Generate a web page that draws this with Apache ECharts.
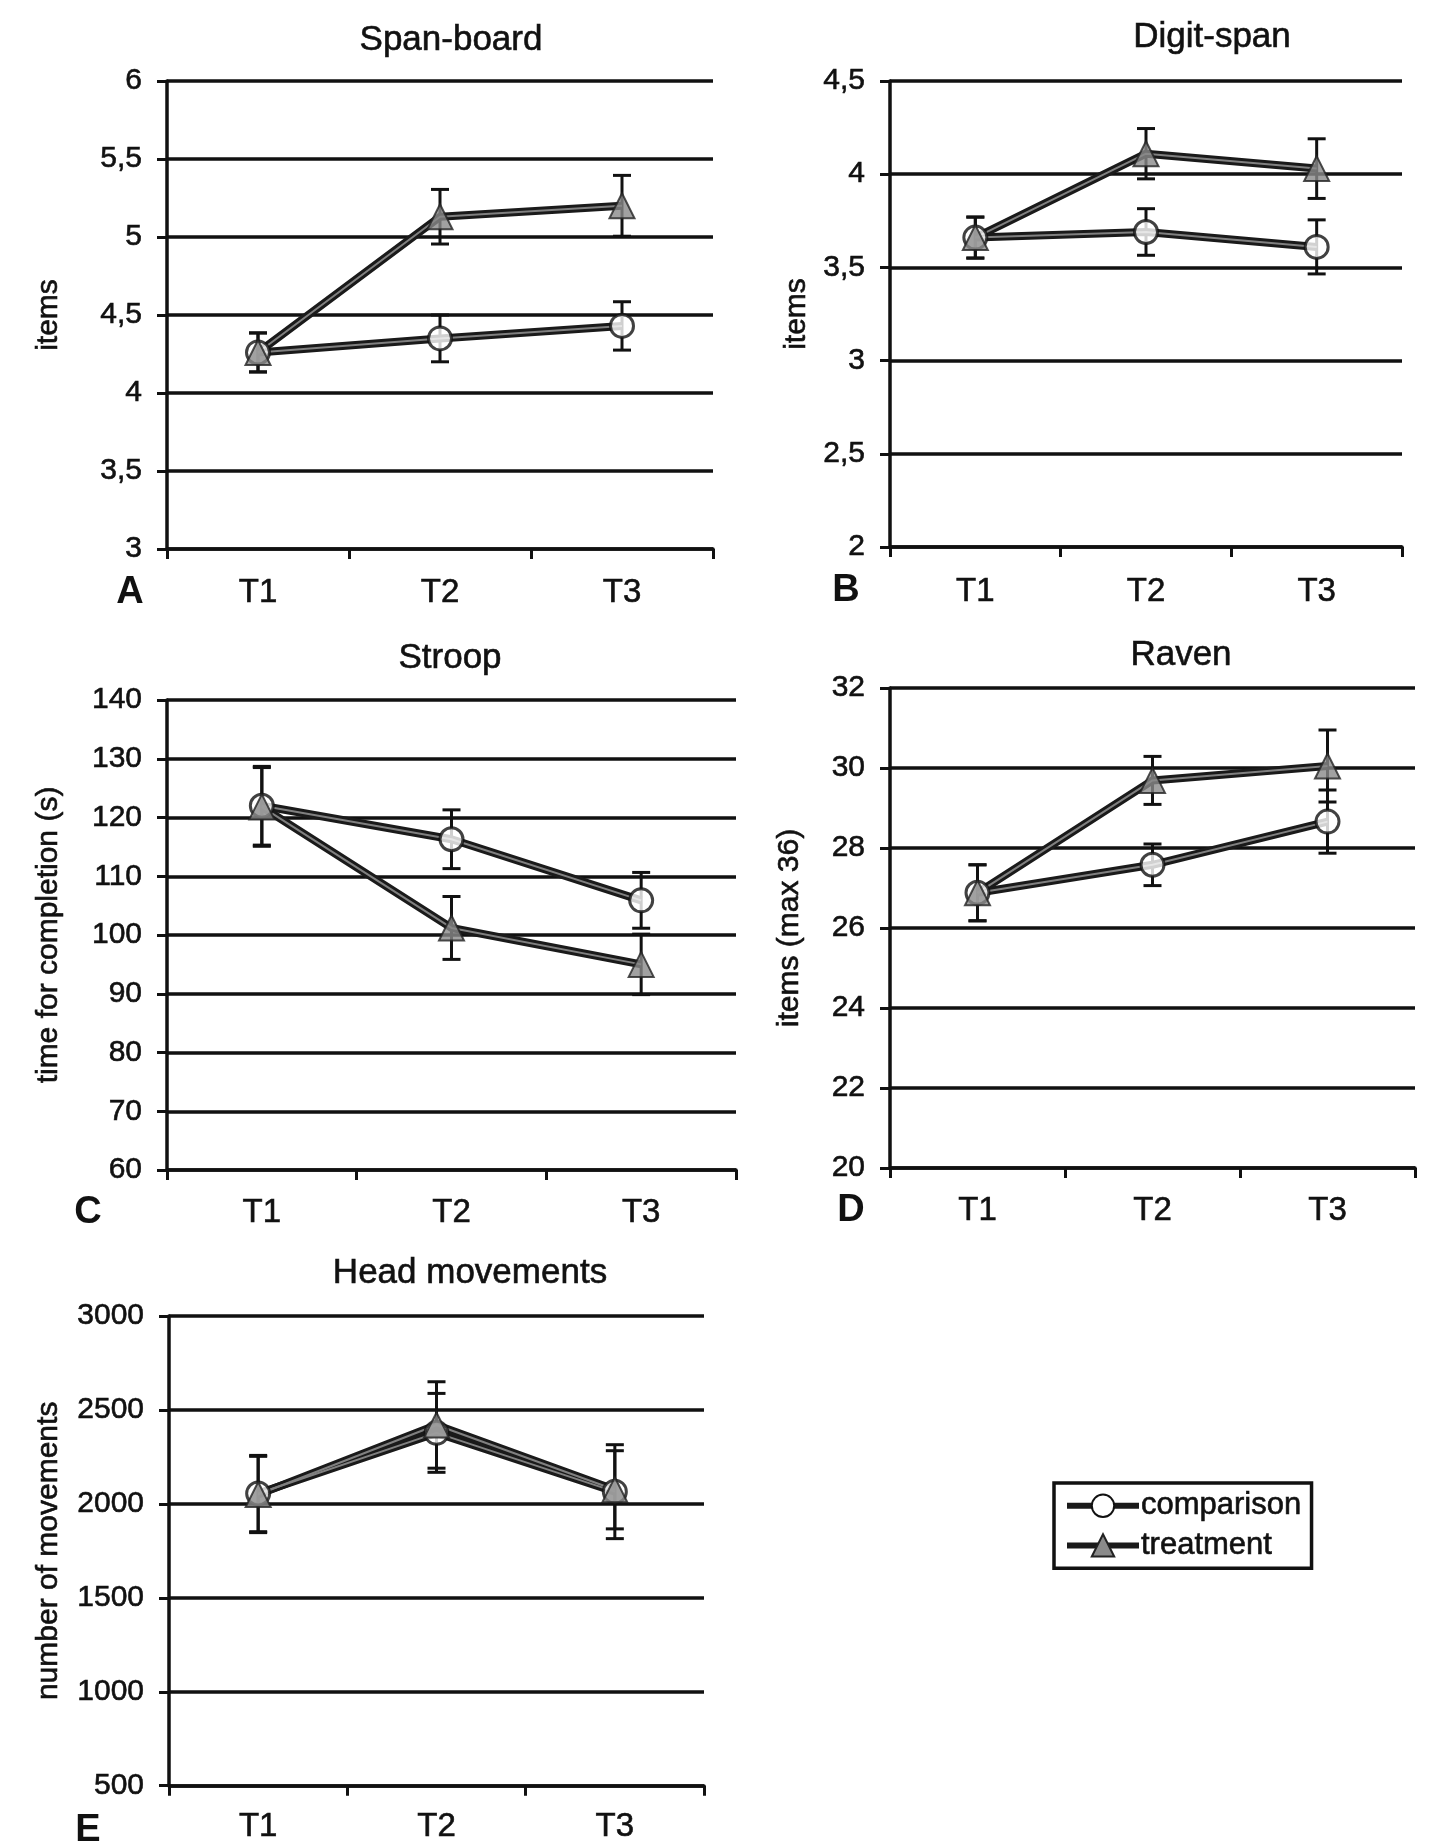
<!DOCTYPE html>
<html>
<head>
<meta charset="utf-8">
<script src="https://cdn.jsdelivr.net/npm/echarts@6/dist/echarts.min.js"></script>
<style>
  html, body { margin: 0; padding: 0; background: #fff; }
  #main { width: 1434px; height: 1844px; }
</style>
</head>
<body>
<div id="main"></div>
<script>
// categories
const times = ['T1', 'T2', 'T3'];

// A - Span-board (items)
const spanComp = [4.26, 4.35, 4.43];
const spanCompErr = [0.125, 0.15, 0.155];
const spanTreat = [4.26, 5.13, 5.20];
const spanTreatErr = [0.125, 0.175, 0.195];

// B - Digit-span (items)
const digitComp = [3.66, 3.69, 3.61];
const digitCompErr = [0.11, 0.125, 0.145];
const digitTreat = [3.66, 4.11, 4.03];
const digitTreatErr = [0.11, 0.135, 0.16];

// C - Stroop (time for completion, s)
const stroopComp = [122, 116.3, 105.9];
const stroopCompErr = [6.7, 5.0, 4.75];
const stroopTreat = [121.8, 101.2, 95];
const stroopTreatErr = [6.7, 5.35, 5.15];

// D - Raven (items, max 36)
const ravenComp = [26.88, 27.58, 28.66];
const ravenCompErr = [0.7, 0.52, 0.79];
const ravenTreat = [26.88, 29.69, 30.05];
const ravenTreatErr = [0.7, 0.6, 0.9];

// E - Head movements (number of movements)
const headComp = [2055, 2378, 2065];
const headCompErr = [203, 210, 250];
const headTreat = [2050, 2420, 2075];
const headTreatErr = [203, 230, 208];

// y axis ticks per panel
const yMins = [3, 2, 60, 20, 500];
const yMaxs = [6, 4.5, 140, 32, 3000];
const ySteps = [0.5, 0.5, 10, 2, 500];

const panelTitles = ['Span-board', 'Digit-span', 'Stroop', 'Raven', 'Head movements'];
const panelLetters = ['A', 'B', 'C', 'D', 'E'];
const yNames = ['items', 'items', 'time for completion (s)', 'items (max 36)', 'number of movements'];

const panels = [
    [spanComp, spanCompErr, spanTreat, spanTreatErr],
    [digitComp, digitCompErr, digitTreat, digitTreatErr],
    [stroopComp, stroopCompErr, stroopTreat, stroopTreatErr],
    [ravenComp, ravenCompErr, ravenTreat, ravenTreatErr],
    [headComp, headCompErr, headTreat, headTreatErr]
];

// layout of the five plots (px)
const layout = [
    { left: 167, top: 81, width: 546, height: 468, nameGap: 103, labelMargin: 27, titleX: 451, titleY: 40, letterX: 130, letterY: 593 },
    { left: 890, top: 81, width: 512, height: 466, nameGap: 78, labelMargin: 28, titleX: 1212, titleY: 37, letterX: 846, letterY: 591 },
    { left: 167, top: 700, width: 569, height: 470, nameGap: 103, labelMargin: 26, titleX: 450, titleY: 658, letterX: 88, letterY: 1213 },
    { left: 890, top: 688, width: 525, height: 480, nameGap: 85, labelMargin: 26, titleX: 1181, titleY: 655, letterX: 851, letterY: 1211 },
    { left: 169, top: 1316, width: 535, height: 473, nameGap: 105, labelMargin: 25, titleX: 470, titleY: 1273, letterX: 88, letterY: 1831 }
];

const FONT = 'Liberation Sans, Arial, sans-serif';
const INK = '#111';
// scanned print looks slightly heavier than a plain font
const inkText = { color: INK, fontFamily: FONT, textBorderColor: INK, textBorderWidth: 0.6 };

function errorBar(params, api) {
    let x = api.value(0);
    let top = api.coord([x, api.value(2)]);
    let bot = api.coord([x, api.value(1)]);
    let half = 9;
    let style = { stroke: INK, lineWidth: 3 };
    return {
        type: 'group',
        children: [
            { type: 'line', shape: { x1: top[0], y1: top[1], x2: bot[0], y2: bot[1] }, style: style },
            { type: 'line', shape: { x1: top[0] - half, y1: top[1], x2: top[0] + half, y2: top[1] }, style: style },
            { type: 'line', shape: { x1: bot[0] - half, y1: bot[1], x2: bot[0] + half, y2: bot[1] }, style: style }
        ]
    };
}

let grids = [], xAxes = [], yAxes = [], titles = [], series = [], graphics = [];

panels.forEach(function (p, i) {
    let L = layout[i];
    grids.push({ left: L.left, top: L.top, width: L.width, height: L.height });
    xAxes.push({
        gridIndex: i,
        type: 'category',
        data: times,
        boundaryGap: true,
        axisLine: { lineStyle: { color: INK, width: 3.5 } },
        axisTick: { show: true, length: 10, alignWithLabel: false, lineStyle: { color: INK, width: 3 } },
        axisLabel: Object.assign({ fontSize: 33, margin: L.labelMargin }, inkText),
        splitLine: { show: false }
    });
    yAxes.push({
        gridIndex: i,
        type: 'value',
        min: yMins[i],
        max: yMaxs[i],
        interval: ySteps[i],
        name: yNames[i],
        nameLocation: 'middle',
        nameRotate: 90,
        nameGap: L.nameGap,
        nameTextStyle: Object.assign({ fontSize: 30 }, inkText),
        axisLine: { show: true, lineStyle: { color: INK, width: 3.5 } },
        axisTick: { show: true, length: 10, lineStyle: { color: INK, width: 3 } },
        axisLabel: Object.assign({
            fontSize: 30, margin: 25,
            formatter: function (v) { return String(v).replace('.', ','); }
        }, inkText),
        splitLine: { show: true, lineStyle: { color: INK, width: 3.5 } }
    });
    titles.push({
        text: panelTitles[i],
        left: L.titleX,
        top: L.titleY,
        textAlign: 'center',
        textVerticalAlign: 'middle',
        padding: 0,
        textStyle: Object.assign({ fontSize: 35, fontWeight: 'normal' }, inkText)
    });
    graphics.push({
        type: 'text',
        x: L.letterX,
        y: L.letterY,
        style: { text: panelLetters[i], fill: INK, font: 'bold 38px ' + FONT, align: 'center', verticalAlign: 'middle' }
    });

    let comp = p[0], compErr = p[1], treat = p[2], treatErr = p[3];
    let groups = [
        { name: 'comparison', vals: comp, errs: compErr },
        { name: 'treatment', vals: treat, errs: treatErr }
    ];
    groups.forEach(function (g) {
        series.push({
            type: 'custom',
            name: g.name + ' err',
            xAxisIndex: i, yAxisIndex: i,
            renderItem: errorBar,
            encode: { x: 0, y: [1, 2] },
            data: g.vals.map(function (v, k) { return [k, v - g.errs[k], v + g.errs[k]]; }),
            z: 3,
            silent: true
        });
    });
    groups.forEach(function (g) {
        let isComp = g.name === 'comparison';
        // dark outline of the line
        series.push({
            type: 'line',
            name: g.name,
            xAxisIndex: i, yAxisIndex: i,
            data: g.vals,
            symbol: isComp ? 'circle' : 'triangle',
            showSymbol: false,
            lineStyle: { color: '#1a1a1a', width: 8 },
            itemStyle: isComp ? { color: '#fff', borderColor: INK, borderWidth: 2.5 } : { color: '#8a8a8a', borderColor: '#222', borderWidth: 1.5 },
            z: 4,
            silent: true
        });
        // hatch-like lighter core
        series.push({
            type: 'line',
            name: g.name + ' core',
            xAxisIndex: i, yAxisIndex: i,
            data: g.vals,
            showSymbol: false,
            lineStyle: { color: '#808080', width: 2 },
            z: 5,
            silent: true
        });
    });
    groups.forEach(function (g) {
        let isComp = g.name === 'comparison';
        series.push({
            type: 'scatter',
            name: g.name + ' marker',
            xAxisIndex: i, yAxisIndex: i,
            data: g.vals,
            symbol: isComp ? 'circle' : 'triangle',
            symbolSize: isComp ? 23 : 25,
            itemStyle: isComp ? { color: '#fff', borderColor: INK, borderWidth: 3 } : { color: '#8a8a8a', borderColor: '#222', borderWidth: 2 },
            z: isComp ? 6 : 7,
            silent: true
        });
    });
});

let chart = echarts.init(document.getElementById('main'), null, { renderer: 'canvas' });
chart.setOption({
    backgroundColor: '#fff',
    animation: false,
    title: titles,
    grid: grids,
    xAxis: xAxes,
    yAxis: yAxes,
    graphic: graphics,
    legend: {
        data: ['comparison', 'treatment'],
        orient: 'vertical',
        left: 1054,
        top: 1483,
        padding: [7, 10, 7, 10],
        itemGap: 8,
        itemWidth: 72,
        itemHeight: 28,
        borderColor: INK,
        borderWidth: 3.5,
        selectedMode: false,
        lineStyle: { color: '#1a1a1a', width: 6 },
        textStyle: Object.assign({ fontSize: 31, padding: [0, 0, 0, -3] }, inkText)
    },
    series: series
});
</script>
</body>
</html>
